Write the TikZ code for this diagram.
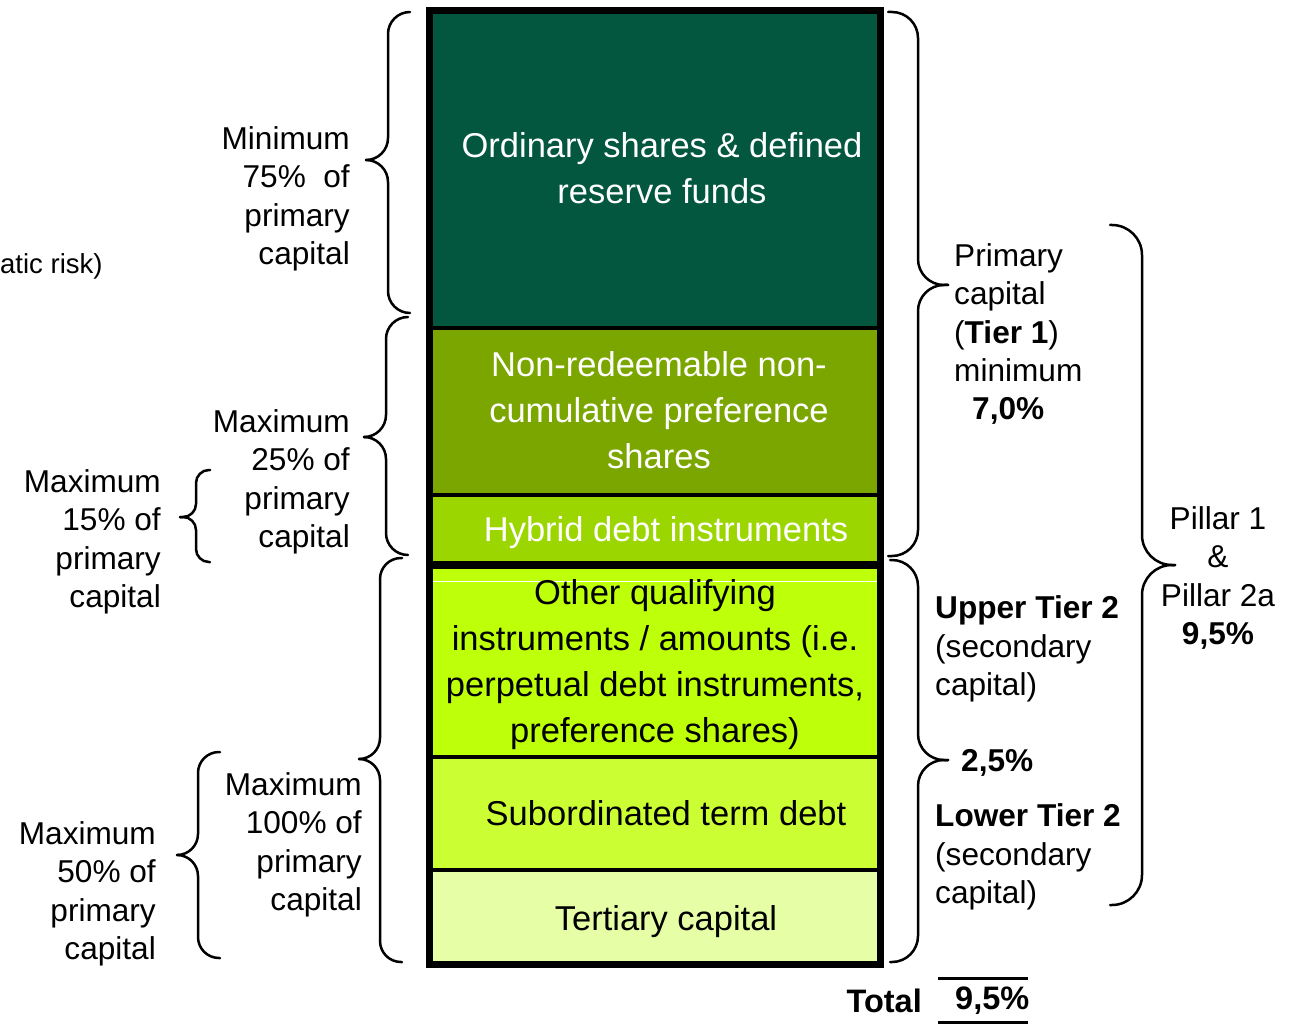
\documentclass[tikz,border=0pt]{standalone}
\usepackage{fontspec}
\setmainfont{Liberation Sans}
\definecolor{tierA}{HTML}{03573F}
\definecolor{tierB}{HTML}{7BA600}
\definecolor{tierC}{HTML}{9CD600}
\definecolor{tierD}{HTML}{BEFF0A}
\definecolor{tierE}{HTML}{CCFF33}
\definecolor{tierF}{HTML}{E6FFA6}
% curly brace: end x, spine x, tip x, top y, tip y, bottom y, corner radius
\newcommand\capbrace[7]{%
  \draw[bracestroke, rounded corners=#7pt] (#1,#4) -- (#2,#4) -- (#2,#5) -- (#3,#5);
  \draw[bracestroke, rounded corners=#7pt] (#3,#5) -- (#2,#5) -- (#2,#6) -- (#1,#6);}
\begin{document}
\begin{tikzpicture}[x=1pt,y=-1pt,
  ann/.style={font=\fontsize{31.6}{38.4}\selectfont, inner sep=0pt},
  boxtxt/.style={font=\fontsize{34.5}{46}\selectfont, inner sep=0pt, align=center},
  bracestroke/.style={line width=2.5pt, line cap=round, line join=round}]
\useasboundingbox (0,0) rectangle (1294,1027);

% capital column
\fill[black] (426,7) rectangle (884,968);
\fill[tierA] (433,14) rectangle (877,326);
\fill[tierB] (433,330) rectangle (877,493);
\fill[tierC] (433,497) rectangle (877,561);
\fill[tierD] (433,569) rectangle (877,755);
\draw[white, line width=1pt] (433,581) -- (877,581);
\fill[tierE] (433,759) rectangle (877,868);
\fill[tierF] (433,872) rectangle (877,961);

\node[boxtxt, text=white] (ord) at (662,168) {Ordinary shares \& defined\\reserve funds};
\node[boxtxt, text=white] (pref) at (659,410) {Non-redeemable non-\\cumulative preference\\shares};
\node[boxtxt, text=white] (hyb) at (666,533) {Hybrid debt instruments};
\node[boxtxt] (oth) at (655,665) {Other qualifying\\instruments / amounts (i.e.\\perpetual debt instruments,\\preference shares)};
\node[boxtxt] (sub) at (666,813) {Subordinated term debt};
\node[boxtxt] (ter) at (666,922) {Tertiary capital};

% left-hand limits
\node[ann, anchor=west, font=\fontsize{27.5}{33}\selectfont] (risk) at (0,266) {atic risk)};
\node[ann, align=right, anchor=east] (min75) at (350,199) {Minimum\\75\%\ \ of\\primary\\capital};
\node[ann, align=right, anchor=east] (max25) at (350,482) {Maximum\\25\% of\\primary\\capital};
\node[ann, align=right, anchor=east] (max15) at (161,542) {Maximum\\15\% of\\primary\\capital};
\node[ann, align=right, anchor=east] (max100) at (362,845) {Maximum\\100\% of\\primary\\capital};
\node[ann, align=right, anchor=east] (max50) at (156,894) {Maximum\\50\% of\\primary\\capital};

\capbrace{410}{388}{366}{12}{160}{313}{22}
\capbrace{408}{386}{366}{317}{437}{555}{22}
\capbrace{402}{380}{359}{558}{759}{962}{21}
\capbrace{210}{196}{180}{470}{517}{562}{13}
\capbrace{220}{198}{177}{752}{855}{958}{21}

% right-hand tiers
\node[ann, align=left, anchor=west] (tier1) at (954,334) {Primary\\capital\\(\textbf{Tier 1})\\minimum\\\hspace*{18pt}\textbf{7,0\%}};
\node[ann, align=left, anchor=west] (upper) at (935,649) {\textbf{Upper Tier 2}\\(secondary\\capital)};
\node[ann, anchor=west, font=\fontsize{31.6}{38.4}\selectfont\bfseries] (mid) at (961,763) {2,5\%};
\node[ann, align=left, anchor=west] (lower) at (935,857) {\textbf{Lower Tier 2}\\(secondary\\capital)};
\node[ann, align=center] (pillar) at (1218,578) {Pillar 1\\\&\\Pillar 2a\\\textbf{9,5\%}};

\capbrace{888}{918}{948}{12}{285}{556}{26}
\capbrace{890}{918}{948}{560}{760}{962}{26}
\capbrace{1110}{1142}{1175}{225}{565}{905}{30}

% total
\node[ann, anchor=east, font=\fontsize{32.5}{38.4}\selectfont\bfseries] (total) at (922,1001) {Total};
\node[ann, anchor=west, font=\fontsize{32.5}{38.4}\selectfont\bfseries] (totval) at (955,1001) {9,5\%};
\draw[line width=3pt] (938,978) -- (1028,978);
\draw[line width=3pt] (938,1022) -- (1028,1022);
\end{tikzpicture}
\end{document}
